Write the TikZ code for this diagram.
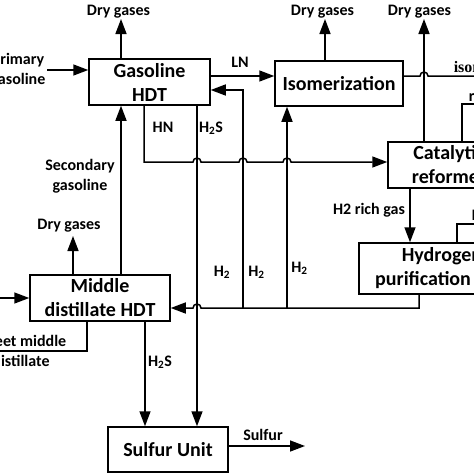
\documentclass[tikz,border=0pt]{standalone}
\usepackage{fontspec}
\setmainfont{Carlito}
\newfontfamily\serifbold{Liberation Serif}
\usetikzlibrary{arrows.meta}
\begin{document}
\begin{tikzpicture}[x=1pt,y=-1pt,
  line width=1.5pt,
  arr/.style={-{Triangle[length=15pt,width=11pt]}},
  unit/.style={draw, line width=1.5pt, inner sep=0pt, align=center,
    font=\fontsize{20}{24}\selectfont\bfseries},
  lbl/.style={font=\fontsize{16}{19.5}\selectfont\bfseries, inner sep=1pt, anchor=base},
  lblm/.style={font=\fontsize{16}{19.5}\selectfont\bfseries, inner sep=1pt, align=center},
]
\useasboundingbox (0,0) rectangle (474,474);
\clip (0,0) rectangle (474,474);

% ---------- units ----------
\node[unit, minimum width=121pt, minimum height=46pt] (gas) at (149.5,82) {Gasoline\\HDT};
\node[unit, minimum width=128pt, minimum height=45pt] (iso) at (339,83.5) {Isomerization};
\node[unit, minimum width=122pt, minimum height=46pt] (cat) at (449,165) {Catalytic\\reformer};
\node[unit, minimum width=166pt, minimum height=51pt] (hyd) at (442,268.5) {Hydrogen\\purification unit};
\node[unit, minimum width=140pt, minimum height=46pt] (mid) at (100,298) {Middle\\distillate HDT};
\node[unit, minimum width=120pt, minimum height=45pt] (sul) at (168,449.5) {Sulfur Unit};

% ---------- helper coordinates ----------
\coordinate (yLN) at (0,76);
\coordinate (yRet) at (0,90);
\coordinate (yHN) at (0,162);
\coordinate (yH2) at (0,308);
\coordinate (xHN) at (144,0);
\coordinate (xS1) at (197,0);
\coordinate (xS2) at (145,0);
\coordinate (xSec) at (121,0);
\coordinate (xH2a) at (243,0);
\coordinate (xH2b) at (287,0);
\coordinate (xRich) at (410,0);
\coordinate (xHyd) at (419,0);
\coordinate (dgG) at (121,19);
\coordinate (dgI) at (325,19);
\coordinate (dgC) at (424,19);
\coordinate (dgM) at (73,236);
\coordinate (midIn) at (-5,298);
\coordinate (xSw) at (87,351);
\coordinate (sweetEnd) at (-5,351);
\coordinate (isoEnd) at (480,76);
\coordinate (refC) at (462,104);
\coordinate (refEnd) at (480,104);
\coordinate (fuelC) at (457,224);
\coordinate (fuelEnd) at (480,224);
\coordinate (sulOut) at (305,446);

% ---------- labels ----------
\node[lbl] (lDG1) at (118.5,15) {Dry gases};
\node[lbl] (lDG2) at (322.5,15) {Dry gases};
\node[lbl] (lDG3) at (419.5,15) {Dry gases};
\node[lbl] (lDG4) at (69,229) {Dry gases};
\node[lblm] (prim) at (18,70) {Primary\\gasoline};
\node[lblm] (lSec) at (80,176) {Secondary\\gasoline};
\node[lblm] (sweet) at (21,351) {Sweet middle\\distillate};
\node[lbl] (lLN) at (240,67) {LN};
\node[lbl] (lHN) at (163,132) {HN};
\node[lbl] (lH2S1) at (211,132) {H\textsubscript{2}S};
\node[lbl] (lH2S2) at (160,366) {H\textsubscript{2}S};
\node[lbl] (lH2a) at (222,276) {H\textsubscript{2}};
\node[lbl] (lH2b) at (256.5,276) {H\textsubscript{2}};
\node[lbl] (lH2c) at (299.5,272) {H\textsubscript{2}};
\node[lbl] (lRich) at (369,214) {H2 rich gas};
\node[lbl] (lSul) at (263,440) {Sulfur};
\node[font=\serifbold\bfseries\fontsize{16}{19}\selectfont, inner sep=0pt, anchor=base west] (lIso) at (453,72) {isomerate};
\node[font=\fontsize{16}{19}\selectfont\bfseries, inner sep=0pt, anchor=base west] (lRef) at (468,101) {reformate};
\node[font=\fontsize{16}{19}\selectfont\bfseries, inner sep=0pt, anchor=base west] (lFuel) at (471,220) {Fuel gas};

% ---------- connectors ----------
\draw[arr] (gas.north -| dgG) -- (dgG);
\draw[arr] (iso.north -| dgI) -- (dgI);
\draw[arr] (cat.north -| dgC) -- (dgC);
\draw[arr] (mid.north -| dgM) -- (dgM);

\draw[arr] (prim.east) -- (prim.east -| gas.west);
\draw[arr] (gas.east |- yLN) -- (iso.west |- yLN);
\draw (iso.east |- yLN) -- (420,76) arc[start angle=180, end angle=360, radius=4] -- (isoEnd);
\draw (cat.north -| refC) -- (refC) -- (refEnd);
\draw (hyd.north -| fuelC) -- (fuelC) -- (fuelEnd);

\draw[arr] (gas.south -| xHN) -- (xHN |- yHN) -- (193,162)
  arc[start angle=180, end angle=360, radius=4] -- (239,162)
  arc[start angle=180, end angle=360, radius=4] -- (283,162)
  arc[start angle=180, end angle=360, radius=4] -- (cat.west |- yHN);

\draw[arr] (gas.south -| xS1) -- (sul.north -| xS1);
\draw[arr] (mid.south -| xS2) -- (sul.north -| xS2);
\draw[arr] (mid.north -| xSec) -- (gas.south -| xSec);

\draw[arr] (midIn) -- (mid.west);
\draw (mid.south -| xSw) -- (xSw) -- (sweetEnd);

\draw[arr] (cat.south -| xRich) -- (hyd.north -| xRich);
\draw[arr] (hyd.south -| xHyd) -- (xHyd |- yH2) -- (201,308)
  arc[start angle=0, end angle=-180, radius=4] -- (mid.east |- yH2);
\draw[arr] (xH2a |- yH2) -- (xH2a |- yRet) -- (gas.east |- yRet);
\draw[arr] (xH2b |- yH2) -- (iso.south -| xH2b);

\draw[arr] (sul.east |- sulOut) -- (sulOut);
\end{tikzpicture}
\end{document}
